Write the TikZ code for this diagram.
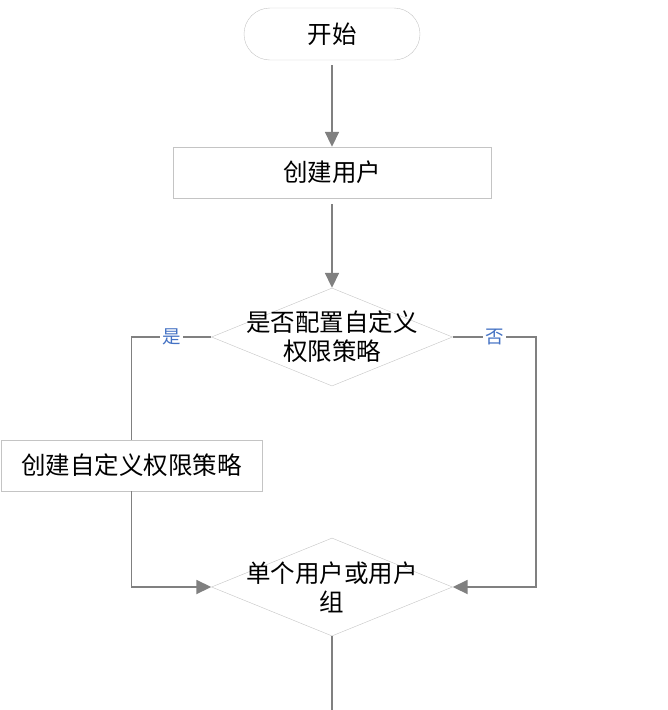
\documentclass[tikz,border=0pt]{standalone}
\usepackage{fontspec}
\newfontfamily\cjk{Noto Sans CJK SC}
\usetikzlibrary{arrows.meta,shapes.geometric}
\definecolor{edge}{HTML}{808080}
\definecolor{rim}{HTML}{C4C4C4}
\definecolor{tagblue}{HTML}{4472C4}

\begin{document}
\begin{tikzpicture}[x=1pt, y=-1pt, font=\cjk\fontsize{24.5}{29}\selectfont, >={Triangle[length=15pt,width=14pt]},
  term/.style={draw=rim, rounded corners=26pt, minimum width=176pt, minimum height=52pt},
  proc/.style={draw=rim, minimum width=318pt, minimum height=51pt},
  decide/.style={draw=rim, diamond, minimum width=241pt, minimum height=98pt, inner sep=0pt},
  flow/.style={draw=edge, line width=1.8pt},
  choice/.style={fill=white, text=tagblue, font=\cjk\fontsize{18.5}{22}\selectfont, inner sep=2pt}]
\useasboundingbox (0,0) rectangle (668,710);
\node[term] (start) at (332,34) {开始};
\node[proc] (user) at (332,172.5) {创建用户};
\node[decide, label={[align=center]center:是否配置自定义\\权限策略}] (ask) at (332,337) {};
\node[proc, minimum width=261pt] (policy) at (131.5,465.5) {创建自定义权限策略};
\node[decide, label={[align=center]center:单个用户或用户\\组}] (kind) at (332,587) {};
\coordinate (rside) at (536,337);
\coordinate (out) at (332,710);
\draw[flow,->, shorten <=5pt] (start) -- (user);
\draw[flow,->, shorten <=6pt] (user) -- (ask);
\draw[flow] (ask.west) -- node[choice] {是} (ask.west -| policy) -- (policy.north);
\draw[flow,->] (ask.east) -- node[choice] {否} (rside) |- (kind.east);
\draw[flow,->] (policy.south) |- (kind.west);
\draw[flow] (kind.south) -- (out);
\end{tikzpicture}
\end{document}
